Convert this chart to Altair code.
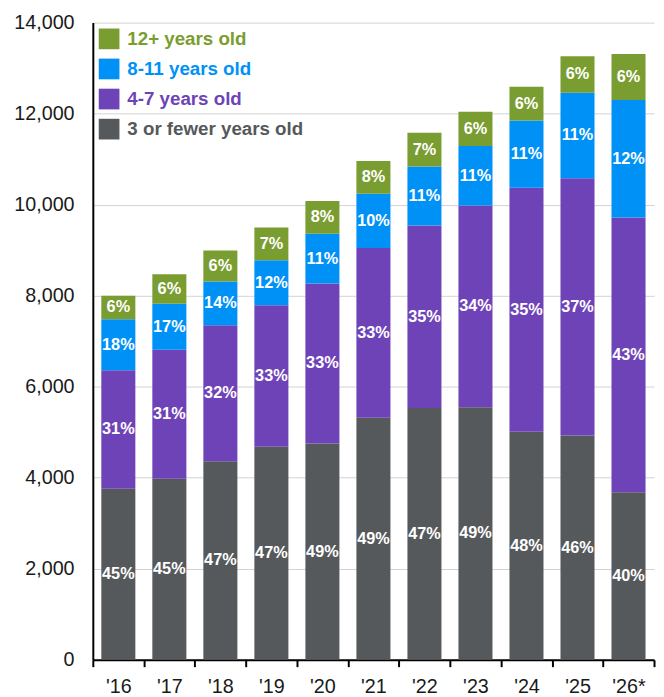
import altair as alt
import pandas as pd

years = ["'16", "'17", "'18", "'19", "'20", "'21", "'22", "'23", "'24", "'25", "'26*"]

groups = ["3 or fewer years old", "4-7 years old", "8-11 years old", "12+ years old"]
legend_order = ["12+ years old", "8-11 years old", "4-7 years old", "3 or fewer years old"]
legend_colors = ["#7A9D31", "#0091F7", "#6E43B7", "#56595C"]

gray_vals = [3760, 3980, 4360, 4680, 4750, 5320, 5530, 5550, 5010, 4930, 3680]
purple_vals = [2600, 2830, 2990, 3110, 3520, 3730, 4010, 4430, 5360, 5650, 6040]
blue_vals = [1120, 1010, 960, 990, 1090, 1190, 1300, 1310, 1480, 1880, 2580]
green_vals = [520, 650, 680, 720, 720, 720, 740, 750, 740, 800, 1010]

gray_pct = [45, 45, 47, 47, 49, 49, 47, 49, 48, 46, 40]
purple_pct = [31, 31, 32, 33, 33, 33, 35, 34, 35, 37, 43]
blue_pct = [18, 17, 14, 12, 11, 10, 11, 11, 11, 11, 12]
green_pct = [6, 6, 6, 7, 8, 8, 7, 6, 6, 6, 6]

y_ticks = [0, 2000, 4000, 6000, 8000, 10000, 12000, 14000]

series = [
    (groups[0], gray_vals, gray_pct),
    (groups[1], purple_vals, purple_pct),
    (groups[2], blue_vals, blue_pct),
    (groups[3], green_vals, green_pct),
]
rows = []
for k, (g, vals, pcts) in enumerate(series):
    for yr, v, p in zip(years, vals, pcts):
        rows.append({"year": yr, "group": g, "ord": k, "v": v, "pct": p})
df = pd.DataFrame(rows)

FONT = "Liberation Sans"
W, H = 569, 646

base = (
    alt.Chart(df)
    .transform_stack(
        stack="v", groupby=["year"], as_=["v0", "v1"],
        sort=[alt.SortField("ord", order="ascending")],
    )
    .transform_calculate(mid="(datum.v0 + datum.v1) / 2", lab="datum.pct + '%'")
)

x_enc = alt.X(
    "year:N", sort=years,
    scale=alt.Scale(paddingInner=0, paddingOuter=0),
    axis=alt.Axis(
        title=None, labelAngle=0, labelFontSize=20, labelFont=FONT,
        labelColor="#1a1a1a", tickBand="extent", tickSize=7, tickWidth=2,
        tickColor="black", domainColor="black", domainWidth=2,
        labelPadding=10, grid=False,
    ),
)

y_scale = alt.Scale(domain=[0, 14000], nice=False)
y_axis = alt.Axis(
    title=None, values=y_ticks, format=",.0f", labelFontSize=20,
    labelFont=FONT, labelColor="#1a1a1a", ticks=False, labelPadding=19,
    domainColor="black", domainWidth=2,
    grid=True, gridColor="#d2d2d2", gridWidth=1, gridOpacity=1,
)

label_color_expr = (
    "datum.value === '12+ years old' ? '#7A9D31' : "
    "datum.value === '8-11 years old' ? '#0091F7' : "
    "datum.value === '4-7 years old' ? '#6E43B7' : '#56595C'"
)

bars = base.mark_bar(width=alt.RelativeBandSize(0.667)).encode(
    x=x_enc,
    y=alt.Y("v0:Q", scale=y_scale, axis=y_axis),
    y2="v1:Q",
    color=alt.Color(
        "group:N",
        scale=alt.Scale(domain=legend_order, range=legend_colors),
        legend=alt.Legend(
            title=None, orient="none", legendX=6, legendY=6,
            symbolType="square", symbolSize=441, symbolStrokeWidth=0,
            labelFontSize=19, labelFont=FONT, labelFontWeight="bold",
            labelColor={"expr": label_color_expr},
            labelOffset=8, rowPadding=9.5, padding=0, labelLimit=400,
        ),
    ),
)

texts = base.mark_text(
    color="white", fontSize=16.5, fontWeight="bold", font=FONT, baseline="middle"
).encode(
    x=x_enc,
    y=alt.Y("mid:Q", scale=y_scale, axis=y_axis),
    text="lab:N",
)

chart = (
    alt.layer(bars, texts)
    .properties(
        width=W, height=H,
        padding={"left": 5, "top": 0, "right": 1, "bottom": 0},
        background="white",
    )
    .configure_axisY(grid=True, gridColor="#d2d2d2", gridWidth=1)
    .configure_view(stroke=None)
)

chart.save("out.html", embed_options={"renderer": "svg", "actions": False})
